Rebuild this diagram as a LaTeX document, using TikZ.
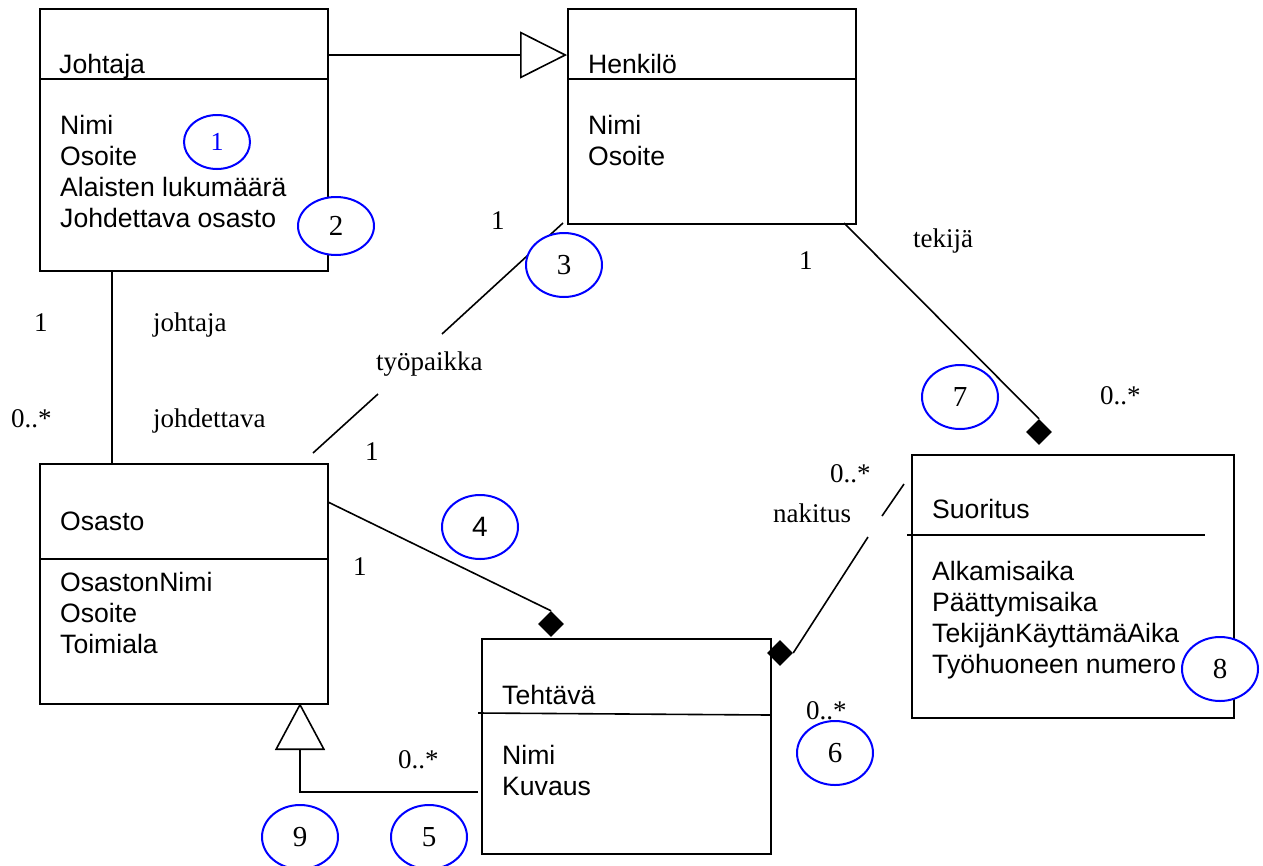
\documentclass[tikz,border=0pt]{standalone}
\usepackage{fontspec}
\setmainfont{Liberation Serif}
\newfontfamily\arialf{Liberation Sans}
\usetikzlibrary{shapes.geometric,arrows.meta}
\begin{document}
\begin{tikzpicture}[x=1pt,y=-1pt,
  box/.style={draw, line width=1.8pt, inner sep=0, anchor=north west},
  cls/.style={font=\arialf\fontsize{26.6}{31}\selectfont, anchor=base west, inner sep=0},
  lbl/.style={font=\fontsize{27}{31}\selectfont, anchor=base west, inner sep=0},
  conn/.style={line width=1.6pt},
  divline/.style={line width=1.6pt},
  num/.style={ellipse, draw=blue, line width=2pt, fill=white, minimum width=76pt, minimum height=64pt, inner sep=0, font=\fontsize{29}{31}\selectfont},
  dia/.style={diamond, fill=black, inner sep=0, minimum width=26pt, minimum height=26pt}]
\useasboundingbox (0,0) rectangle (1263,865);
\fill[white] (0,0) rectangle (1263,865);

% class boxes
\node[box, minimum width=288pt, minimum height=262pt] (joh) at (39,8) {};
\node[box, minimum width=288pt, minimum height=215pt] (hen) at (567,8) {};
\node[box, minimum width=288pt, minimum height=240pt] (osa) at (39,463) {};
\node[box, minimum width=289pt, minimum height=215pt] (teh) at (481,638) {};
\node[box, minimum width=322pt, minimum height=263pt] (suo) at (911,454) {};

% dividers
\draw[divline] (39,79) -- (328,79);
\draw[divline] (567,79) -- (857,79);
\draw[divline] (39,559) -- (328,559);
\draw[divline] (478,713) -- (770,715);
\draw[divline] (907,535) -- (1205,535);

% class texts
\node[cls] (tJoh) at (59,73) {Johtaja};
\node[cls] (tJoh1) at (60,134) {Nimi};
\node[cls] (tJoh2) at (60,165) {Osoite};
\node[cls] (tJoh3) at (60,196) {Alaisten lukumäärä};
\node[cls] (tJoh4) at (60,227) {Johdettava osasto};

\node[cls] (tHen) at (588,73) {Henkilö};
\node[cls] (tHen1) at (588,134) {Nimi};
\node[cls] (tHen2) at (588,165) {Osoite};

\node[cls] (tOsa) at (60,530) {Osasto};
\node[cls] (tOsa1) at (60,591) {OsastonNimi};
\node[cls] (tOsa2) at (60,622) {Osoite};
\node[cls] (tOsa3) at (60,653) {Toimiala};

\node[cls] (tTeh) at (502,704) {Tehtävä};
\node[cls] (tTeh1) at (502,764) {Nimi};
\node[cls] (tTeh2) at (502,795) {Kuvaus};

\node[cls] (tSuo) at (932,518) {Suoritus};
\node[cls] (tSuo1) at (932,580) {Alkamisaika};
\node[cls] (tSuo2) at (932,611) {Päättymisaika};
\node[cls] (tSuo3) at (932,642) {TekijänKäyttämäAika};
\node[cls] (tSuo4) at (932,673) {Työhuoneen numero};

% diamonds
\node[dia] (d1) at (551,624) {};
\node[dia] (d2) at (780,653) {};
\node[dia] (d3) at (1039,432) {};

% coordinates for connectors
\coordinate (jhA) at (327,55);
\coordinate (jhB) at (567,55);
\coordinate (tpA) at (313,453);
\coordinate (tpB) at (378,394);
\coordinate (tpC) at (442,334);
\coordinate (tpD) at (563,223);
\coordinate (hsA) at (844,223);
\coordinate (otA) at (328,502);
\coordinate (nkA) at (868,537);
\coordinate (nkB) at (882,516);
\coordinate (nkC) at (904,484);
\coordinate (toA) at (478,792);
\coordinate (toB) at (300,703);

% connectors
\draw[conn, -{Triangle[open, length=47pt, width=47pt, line width=1.6pt]}] (jhA) -- (jhB);
\draw[conn] ([xshift=73pt]joh.south west) -- ([xshift=73pt]osa.north west);
\draw[conn] (tpA) -- (tpB);
\draw[conn] (tpC) -- (tpD);
\draw[conn] (hsA) -- (d3.north);
\draw[conn] (otA) -- (d1.north);
\draw[conn] (d2.east) -- (nkA);
\draw[conn] (nkB) -- (nkC);
\draw[conn, -{Triangle[open, length=47pt, width=50pt, line width=1.6pt]}] (toA) -| (toB);

% labels
\node[lbl] (l1) at (34,331) {1};
\node[lbl] (l2) at (153,331) {johtaja};
\node[lbl] (l3) at (11,427) {0..*};
\node[lbl] (l4) at (153,427) {johdettava};
\node[lbl] (l5) at (376,370) {työpaikka};
\node[lbl] (l6) at (365,460) {1};
\node[lbl] (l7) at (353,575) {1};
\node[lbl] (l8) at (491,229) {1};
\node[lbl] (l9) at (799,269) {1};
\node[lbl] (l10) at (913,247) {tekijä};
\node[lbl] (l11) at (1100,404) {0..*};
\node[lbl] (l12) at (830,482) {0..*};
\node[lbl] (l13) at (773,522) {nakitus};
\node[lbl] (l14) at (806,719) {0..*};
\node[lbl] (l15) at (398,768) {0..*};

% numbered circles
\node[num, minimum width=66pt, minimum height=54pt, text=blue, font=\fontsize{26}{31}\selectfont] (c1) at (217,142) {1};
\node[num, minimum height=58pt] (c2) at (336,226) {2};
\node[num] (c3) at (564,265) {3};
\node[num, font=\arialf\fontsize{28}{31}\selectfont] (c4) at (480,527) {4};
\node[num] (c5) at (429,837) {5};
\node[num] (c6) at (835,753) {6};
\node[num] (c7) at (960,397) {7};
\node[num] (c8) at (1220,669) {8};
\node[num] (c9) at (300,837) {9};
\end{tikzpicture}
\end{document}
